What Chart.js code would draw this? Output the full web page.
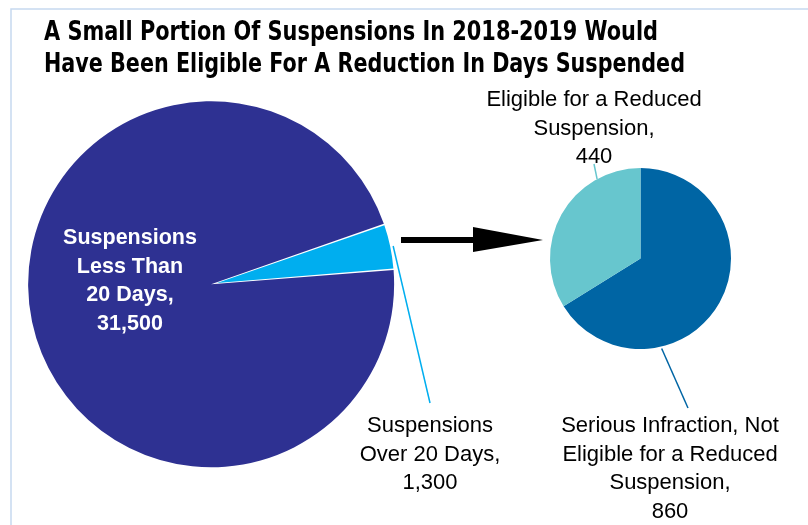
<!DOCTYPE html>
<html>
<head>
<meta charset="utf-8">
<script src="https://cdn.jsdelivr.net/npm/chart.js@4.4.0/dist/chart.umd.min.js"></script>
<style>
    body { margin: 0; background: #fff; }
    #wrap { position: relative; width: 808px; height: 525px; }
    #wrap canvas { position: absolute; left: 0; top: 0; }
</style>
</head>
<body>
<div id="wrap">
    <canvas id="graficoGrande" width="808" height="525"></canvas>
    <canvas id="graficoPequeno" width="808" height="525"></canvas>
</div>
<script>
//Datos del gráfico
const titleLines = ['A Small Portion Of Suspensions In 2018-2019 Would', 'Have Been Eligible For A Reduction In Days Suspended'];
const bigLabels = ['Suspensions Over 20 Days', 'Suspensions Less Than 20 Days'];
const bigValues = [1300, 31500];
const smallLabels = ['Serious Infraction, Not Eligible for a Reduced Suspension', 'Eligible for a Reduced Suspension'];
const smallValues = [860, 440];

//Texto de las etiquetas (el valor se agrega al final)
const overLines = ['Suspensions', 'Over 20 Days,'];
const lessLines = ['Suspensions', 'Less Than', '20 Days,'];
const notEligibleLines = ['Serious Infraction, Not', 'Eligible for a Reduced', 'Suspension,'];
const eligibleLines = ['Eligible for a Reduced', 'Suspension,'];

const bigColors = ['#00AEEF', '#2E3192'];
const smallColors = ['#0065A4', '#67C6CE'];

const fmt = v => v.toLocaleString('en-US');
const textFont = "22px 'Liberation Sans', Arial, sans-serif";
const boldFont = "bold 21.5px 'Liberation Sans', Arial, sans-serif";

//Funcion para escribir varias lineas centradas
function drawLines(ctx, lines, x, y, step, font, color) {
    ctx.save();
    ctx.font = font;
    ctx.fillStyle = color;
    ctx.textAlign = 'center';
    ctx.textBaseline = 'alphabetic';
    lines.forEach((t, i) => ctx.fillText(t, x, y + i * step));
    ctx.restore();
}

function drawLine(ctx, x1, y1, x2, y2, color) {
    ctx.save();
    ctx.strokeStyle = color;
    ctx.lineWidth = 1.5;
    ctx.beginPath();
    ctx.moveTo(x1, y1);
    ctx.lineTo(x2, y2);
    ctx.stroke();
    ctx.restore();
}

//Punto en el borde de un arco
function edgePoint(arc, angle, extra) {
    return {
        x: arc.x + Math.cos(angle) * (arc.outerRadius + extra),
        y: arc.y + Math.sin(angle) * (arc.outerRadius + extra)
    };
}

//Plugin: titulo, marco, flecha y etiquetas del pastel grande
const bigAnnotations = {
    id: 'bigAnnotations',
    afterDraw(chart) {
        const ctx = chart.ctx;
        //marco
        ctx.save();
        ctx.strokeStyle = '#C6D9F0';
        ctx.lineWidth = 1.5;
        ctx.beginPath();
        ctx.moveTo(11, 525);
        ctx.lineTo(11, 9);
        ctx.lineTo(808, 9);
        ctx.stroke();
        ctx.restore();

        //titulo
        const widths = [614, 641];
        ctx.save();
        ctx.font = "bold 27px 'Liberation Sans Narrow', 'DejaVu Sans Condensed', 'Roboto Condensed', Roboto, sans-serif";
        ctx.fillStyle = '#000';
        ctx.textAlign = 'left';
        titleLines.forEach((t, i) => {
            const w = ctx.measureText(t).width;
            ctx.save();
            ctx.translate(44, 40 + i * 32);
            ctx.scale(widths[i] / w, 1);
            ctx.fillText(t, 0, 0);
            ctx.restore();
        });
        ctx.restore();

        //flecha
        ctx.save();
        ctx.fillStyle = '#000';
        ctx.fillRect(401, 237, 73, 6);
        ctx.beginPath();
        ctx.moveTo(473, 227);
        ctx.lineTo(543, 240);
        ctx.lineTo(473, 252);
        ctx.closePath();
        ctx.fill();
        ctx.restore();

        const arcs = chart.getDatasetMeta(0).data;
        //linea guia del segmento pequeño
        const over = arcs[0];
        const mid = (over.startAngle + over.endAngle) / 2;
        const p = edgePoint(over, mid, 3);
        drawLine(ctx, p.x, p.y, 430, 403, bigColors[0]);

        drawLines(ctx, overLines.concat(fmt(bigValues[0])), 430, 432, 28.7, textFont, '#000');
        drawLines(ctx, lessLines.concat(fmt(bigValues[1])), 130, 244, 28.7, boldFont, '#fff');
    }
};

//Plugin: etiquetas del pastel pequeño
const smallAnnotations = {
    id: 'smallAnnotations',
    afterDraw(chart) {
        const ctx = chart.ctx;
        const arcs = chart.getDatasetMeta(0).data;
        const p1 = edgePoint(arcs[1], -Math.PI / 2 - 0.5, 0);
        drawLine(ctx, p1.x, p1.y, 594, 164, smallColors[1]);
        const p0 = edgePoint(arcs[0], 1.34, 2);
        drawLine(ctx, p0.x, p0.y, 688, 408, smallColors[0]);

        drawLines(ctx, eligibleLines.concat(fmt(smallValues[1])), 594, 106, 28.5, textFont, '#000');
        drawLines(ctx, notEligibleLines.concat(fmt(smallValues[0])), 670, 432, 28.7, textFont, '#000');
    }
};

//Pastel grande
new Chart(document.getElementById('graficoGrande').getContext('2d'), {
    type: 'pie',
    data: {
        labels: bigLabels,
        datasets: [{
            data: bigValues,
            backgroundColor: bigColors,
            borderWidth: 0,
            offset: [0, 24],
            hoverOffset: 0
        }]
    },
    options: {
        responsive: false,
        animation: false,
        events: [],
        rotation: 71,
        layout: { padding: { left: 28, right: 402, top: 94, bottom: 53 } },
        plugins: { legend: { display: false }, tooltip: { enabled: false } }
    },
    plugins: [bigAnnotations]
});

//Pastel pequeño
new Chart(document.getElementById('graficoPequeno').getContext('2d'), {
    type: 'pie',
    data: {
        labels: smallLabels,
        datasets: [{
            data: smallValues,
            backgroundColor: smallColors,
            borderWidth: 0,
            hoverOffset: 0
        }]
    },
    options: {
        responsive: false,
        animation: false,
        events: [],
        rotation: 0,
        layout: { padding: { left: 550, right: 77, top: 168, bottom: 176 } },
        plugins: { legend: { display: false }, tooltip: { enabled: false } }
    },
    plugins: [smallAnnotations]
});
</script>
</body>
</html>
